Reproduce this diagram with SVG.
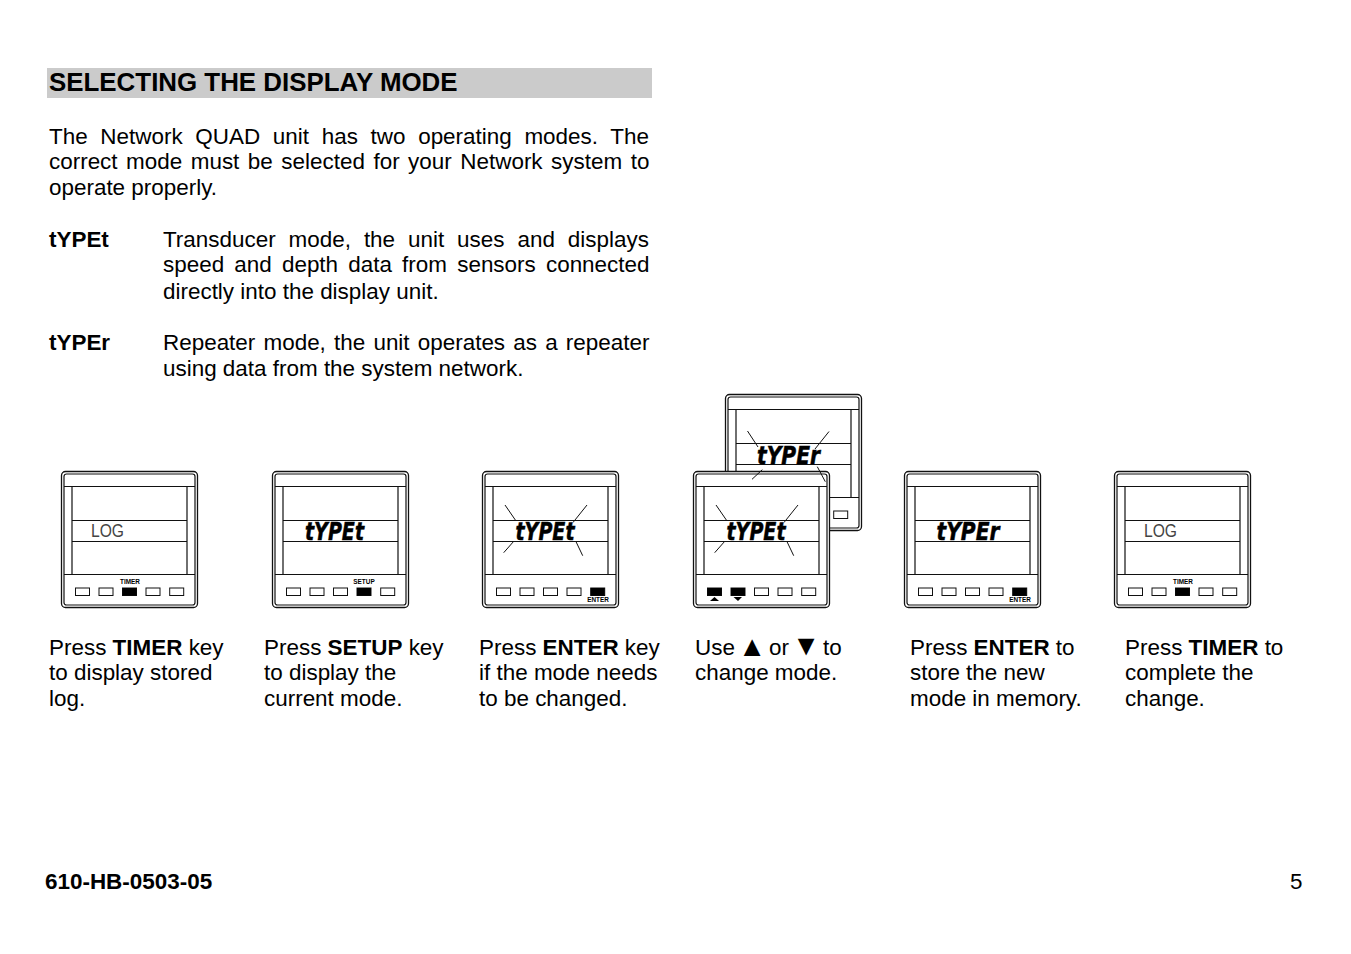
<svg xmlns="http://www.w3.org/2000/svg" width="1351" height="954" viewBox="0 0 1351 954">
<style>
text{font-family:"Liberation Sans","DejaVu Sans",sans-serif;fill:#000}
.b{font-size:22.45px}
.h{font-size:25.9px;font-weight:bold}
.bold{font-weight:bold}
.tri{font-size:28.5px}
.ln{fill:none;stroke:#111;stroke-width:1.2}
.out{fill:#fff;stroke:#111;stroke-width:1.3}
.key{fill:#fff;stroke:#111;stroke-width:1}
.on{fill:#000}
.ray{stroke:#111;stroke-width:1;fill:none}
.lbl{font-size:6.4px;font-weight:bold;text-anchor:middle}
.seg{font-family:"DejaVu Sans",sans-serif;font-size:24.5px;font-weight:bold;font-style:italic;stroke:#000;stroke-width:.5}
.log{font-size:19px;fill:#444}
</style>
<defs>
<g id="frame">
<rect class="out" x="0.5" y="0.5" width="136" height="136" rx="4"/>
<rect class="ln" x="3" y="3" width="131" height="131" rx="2.5"/>
<path class="ln" d="M3 15.5H134M11 15.5V103M126 15.5V103M11 49.5H126M11 70.5H126M3 103.5H134"/>
</g>
<g id="keys">
<rect class="key" x="14.5" y="117" width="14" height="7.5"/>
<rect class="key" x="38" y="117" width="14" height="7.5"/>
<rect class="key" x="61.5" y="117" width="14" height="7.5"/>
<rect class="key" x="85" y="117" width="14" height="7.5"/>
<rect class="key" x="108.7" y="117" width="14" height="7.5"/>
</g>
<g id="rays">
<path class="ray" d="M23 34L33.7 49.5M105 34L91 51.5M32 70L21.7 81.7M93.7 70L100.7 84.7"/>
</g>
</defs>

<g id="heading">
<rect x="47" y="68" width="605" height="30" fill="#cbcbcb"/>
<text class="h" x="49" y="91">SELECTING THE DISPLAY MODE</text>
</g>
<g id="intro">
<text class="b" x="49" y="143.5" word-spacing="6.45">The Network QUAD unit has two operating modes. The</text>
<text class="b" x="49" y="169" word-spacing="2.28">correct mode must be selected for your Network system to</text>
<text class="b" x="49" y="194.5">operate properly.</text>
</g>
<g id="typet-desc">
<text class="b bold" x="49" y="247">tYPEt</text>
<text class="b" x="163" y="247" word-spacing="6.7">Transducer mode, the unit uses and displays</text>
<text class="b" x="163" y="272" word-spacing="3.95">speed and depth data from sensors connected</text>
<text class="b" x="163" y="299">directly into the display unit.</text>
</g>
<g id="typer-desc">
<text class="b bold" x="49" y="350">tYPEr</text>
<text class="b" x="163" y="350" word-spacing="1.95">Repeater mode, the unit operates as a repeater</text>
<text class="b" x="163" y="376">using data from the system network.</text>
</g>

<g id="device-1" transform="translate(61 471)">
<use href="#frame"/><use href="#keys"/>
<rect class="on" x="61.5" y="117" width="14" height="7.5"/>
<text class="lbl" x="69" y="112.5">TIMER</text>
<text class="log" x="30" y="65.5" textLength="33" lengthAdjust="spacingAndGlyphs">LOG</text>
</g>
<g id="device-2" transform="translate(272 471)">
<use href="#frame"/><use href="#keys"/>
<rect class="on" x="85" y="117" width="14" height="7.5"/>
<text class="lbl" x="92" y="112.5">SETUP</text>
<text class="seg" x="33" y="69" textLength="59" lengthAdjust="spacingAndGlyphs">tYPEt</text>
</g>
<g id="device-3" transform="translate(482 471)">
<use href="#frame"/><use href="#keys"/>
<rect class="on" x="108.7" y="117" width="14" height="7.5"/>
<text class="lbl" x="116" y="130.5">ENTER</text>
<text class="seg" x="33.5" y="69" textLength="59" lengthAdjust="spacingAndGlyphs">tYPEt</text>
<use href="#rays"/>
</g>
<g id="device-4-back" transform="translate(725 394)">
<use href="#frame"/><use href="#keys"/>
</g>
<g id="device-4" transform="translate(693 471)">
<use href="#frame"/><use href="#keys"/>
<rect class="on" x="14.5" y="117" width="14" height="7.5"/>
<rect class="on" x="38" y="117" width="14" height="7.5"/>
<polygon points="21.5,126 26,130 17,130" fill="#000"/>
<polygon points="40.5,126 49,126 45,130" fill="#000"/>
<text class="seg" x="33.5" y="69" textLength="59" lengthAdjust="spacingAndGlyphs">tYPEt</text>
<use href="#rays"/>
</g>
<g id="device-4-back-display" transform="translate(725 394)">
<text class="seg" x="32" y="70" textLength="63" lengthAdjust="spacingAndGlyphs">tYPEr</text>
<path class="ray" d="M22.5 37L33 53M104 37.5L90 55M37.3 75.7L27 85.3M92.3 72.7L100.3 87.7"/>
</g>
<g id="device-5" transform="translate(904 471)">
<use href="#frame"/><use href="#keys"/>
<rect class="on" x="108.7" y="117" width="14" height="7.5"/>
<text class="lbl" x="116" y="130.5">ENTER</text>
<text class="seg" x="32.5" y="69" textLength="63" lengthAdjust="spacingAndGlyphs">tYPEr</text>
</g>
<g id="device-6" transform="translate(1114 471)">
<use href="#frame"/><use href="#keys"/>
<rect class="on" x="61.5" y="117" width="14" height="7.5"/>
<text class="lbl" x="69" y="112.5">TIMER</text>
<text class="log" x="30" y="65.5" textLength="33" lengthAdjust="spacingAndGlyphs">LOG</text>
</g>

<g id="connectors"></g>

<g id="captions">
<text class="b" x="49" y="654.5">Press <tspan class="bold">TIMER</tspan> key</text>
<text class="b" x="49" y="680">to display stored</text>
<text class="b" x="49" y="705.5">log.</text>
<text class="b" x="264" y="654.5">Press <tspan class="bold">SETUP</tspan> key</text>
<text class="b" x="264" y="680">to display the</text>
<text class="b" x="264" y="705.5">current mode.</text>
<text class="b" x="479" y="654.5">Press <tspan class="bold">ENTER</tspan> key</text>
<text class="b" x="479" y="680">if the mode needs</text>
<text class="b" x="479" y="705.5">to be changed.</text>
<text class="b" x="695" y="654.5">Use</text>
<text class="b tri" x="738" y="655.5">▲</text>
<text class="b" x="769" y="654.5">or</text>
<text class="b tri" x="792" y="655">▼</text>
<text class="b" x="823" y="654.5">to</text>
<text class="b" x="695" y="680">change mode.</text>
<text class="b" x="910" y="654.5">Press <tspan class="bold">ENTER</tspan> to</text>
<text class="b" x="910" y="680">store the new</text>
<text class="b" x="910" y="705.5">mode in memory.</text>
<text class="b" x="1125" y="654.5">Press <tspan class="bold">TIMER</tspan> to</text>
<text class="b" x="1125" y="680">complete the</text>
<text class="b" x="1125" y="705.5">change.</text>
</g>
<g id="footer">
<text class="b bold" x="45" y="889">610-HB-0503-05</text>
<text class="b" x="1290" y="889">5</text>
</g>
</svg>
